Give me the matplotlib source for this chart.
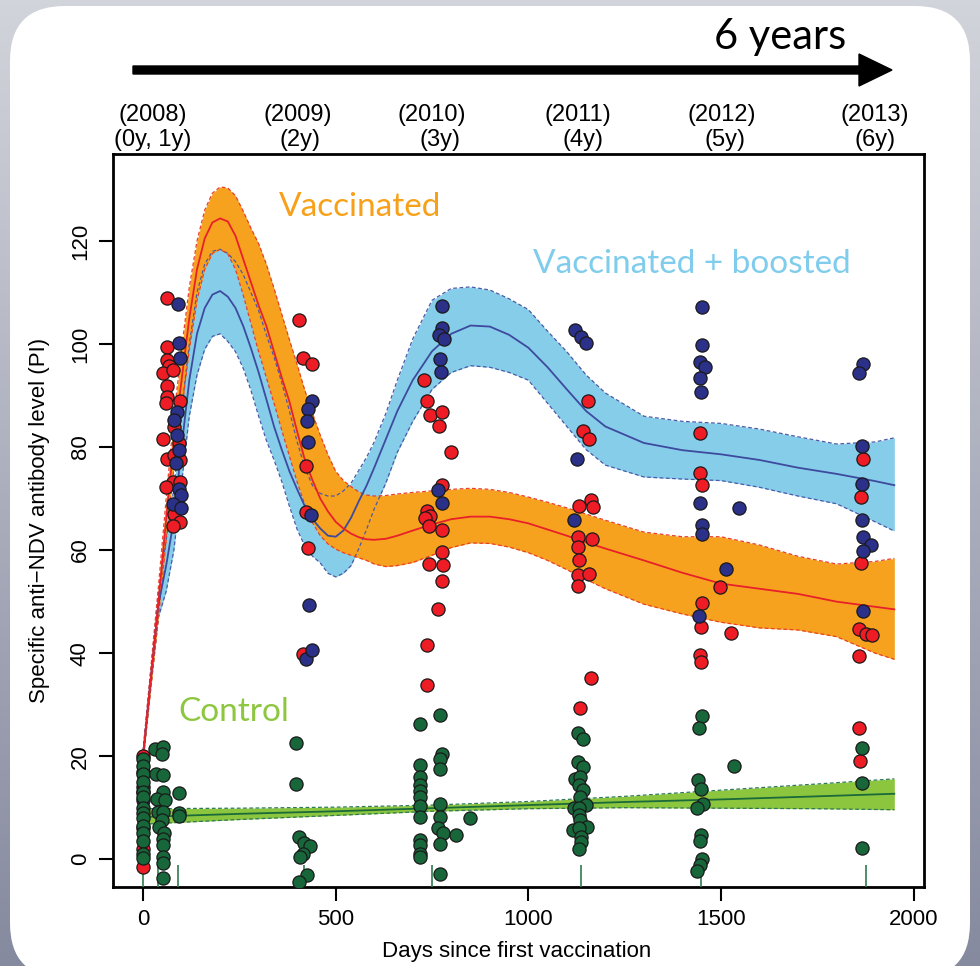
import numpy as np
import matplotlib.pyplot as plt
from matplotlib import transforms
from matplotlib.colors import LinearSegmentedColormap
from matplotlib.patches import FancyBboxPatch

plt.rcParams['font.family'] = ['Liberation Sans', 'DejaVu Sans']

# fitted curves with confidence bands
fit_days = [0, 20, 40, 60, 80, 100, 120, 140, 160, 180, 200, 220, 240, 260, 280, 300,
            320, 340, 360, 380, 400, 420, 440, 460, 480, 500, 520, 540, 560, 580, 600,
            630, 660, 700, 750, 800, 850, 900, 950, 1000, 1050, 1100, 1150, 1200, 1300,
            1400, 1500, 1600, 1700, 1800, 1900, 1950]
vacc_fit = [20, 35, 50, 66, 81, 93, 105, 114.5, 120.5, 123.6, 124.4, 123.8, 121, 116.5, 112, 107.5,
            103.5, 98.5, 93.5, 88.8, 83, 77.5, 73.5, 70, 67.5, 65.5, 64.2, 63.2, 62.5, 62.1, 62,
            62.2, 62.8, 63.8, 65, 66, 66.5, 66.5, 66, 65.2, 64, 62.8, 61.5, 60.3, 58,
            55.6, 53.5, 52.5, 51.5, 50, 49, 48.5]
vacc_hi = [21, 37, 53, 70, 86, 99, 111, 120, 126, 129.3, 130.5, 130.3, 128.8, 125.8, 122.5, 119.5,
           115.5, 110.8, 105.8, 100.8, 96, 91, 86.5, 82.3, 78.5, 75.3, 73.5, 72.3, 71.3, 70.7, 70.5,
           70.6, 70.9, 71.2, 71.5, 71.8, 72, 71.8, 71.2, 70.3, 69.3, 68.2, 67, 65.8, 63.5,
           62.6, 62.6, 61, 58.8, 57.3, 57.8, 58.4]
vacc_lo = [19, 33, 47, 62, 76, 87, 99, 108.5, 114.5, 117.6, 118.4, 117.5, 114.5, 109.5, 104, 98.5,
           93.5, 88.5, 83.3, 78.2, 73.2, 68.8, 65.3, 62.8, 61.2, 60.2, 59.5, 59, 58.5, 58, 57.3,
           56.8, 57, 57.6, 59, 60.5, 61.4, 61.3, 60.6, 59.5, 58, 56.2, 54.3, 52.5, 49.5,
           47.6, 46, 44.9, 44.5, 43.2, 40, 38.8]
boost_fit = [20, 35, 49.5, 57, 66, 80, 93, 102, 107, 109.6, 110.3, 109.2, 107, 103.5, 99.2, 94.5,
             89.3, 84, 79.5, 75.3, 71.8, 68.5, 66, 64.2, 62.8, 62.6, 63.8, 66.3, 69.5, 72.5, 76,
             81.5, 87, 93, 98.6, 102, 103.6, 103.4, 101.8, 99.3, 95.5, 91.2, 87, 84, 80.8,
             79.4, 78.6, 77.5, 76, 74.8, 73.4, 72.6]
boost_hi = [21, 36.5, 52, 62, 72, 87, 100, 110, 115.5, 118, 118.4, 117.6, 116, 113.5, 110, 106.5,
            101.8, 97.5, 92.5, 87, 81, 76, 72.5, 71, 70.5, 70.5, 71.5, 73, 75.5, 78, 81,
            86.5, 93, 101, 108.5, 110.8, 111.1, 110.5, 108.8, 106.7, 102.5, 98.5, 94, 90.5, 86,
            85, 84.6, 83.5, 82, 80.6, 81, 81.8]
boost_lo = [19, 33.5, 47, 52, 60, 73, 86, 94, 99, 101.5, 102, 100.5, 98.5, 95.3, 91, 86,
            81.3, 77.5, 73.3, 68.5, 64, 60.8, 58.8, 57.5, 55.5, 54.8, 55.5, 57, 60.3, 64, 68,
            73, 79, 85, 91.2, 94.5, 95.8, 95.5, 94.5, 93, 88.5, 84, 79.5, 76.5, 74.2,
            73.8, 73.5, 72.2, 70.5, 69, 65.5, 63.7]
ctrl_days = [0, 250, 500, 750, 1000, 1250, 1500, 1750, 1950]
ctrl_fit = [8.2, 8.8, 9.3, 9.9, 10.5, 11.1, 11.6, 12.2, 12.7]
ctrl_hi = [9.8, 9.9, 10.1, 10.5, 11.2, 12.2, 13.4, 14.6, 15.6]
ctrl_lo = [6.8, 7.7, 8.5, 9.3, 9.8, 10.0, 9.9, 9.8, 9.6]

# individual measurements (day, PI)
vacc_pts = [(0, 20), (0, 13), (0, 6), (0, 2), (0, -1.5),
            (61, 109), (61, 99.5), (61, 96.9), (68, 95.7), (51, 94.4), (79, 95), (62, 91.8),
            (61, 89.8), (60, 88.5), (96, 89), (80, 83.9), (53, 81.5), (94, 80.7), (61, 77.6),
            (80, 78.4), (96, 77.5), (77, 73.3), (96, 73.3), (60, 72.2), (80, 67), (96, 65.5), (79, 64.7),
            (406, 104.7), (414, 97.2), (438, 96.1), (422, 76.4), (423, 67.4), (429, 60.5), (416, 39.9),
            (728, 93), (738, 88.9), (745, 86.3), (775, 86.8), (768, 84.1), (799, 79), (775, 72.6),
            (738, 67.5), (745, 66.6), (732, 66.3), (741, 64.6), (775, 64), (775, 59.6), (741, 57.4),
            (778, 57.1), (775, 54), (766, 48.6), (738, 41.5), (738, 33.9),
            (1156, 88.9), (1141, 83.2), (1158, 81.5), (1132, 68.6), (1162, 69.7), (1167, 68.3),
            (1128, 62.6), (1130, 60.7), (1132, 58.1), (1130, 55.2), (1130, 53.1), (1164, 62.2),
            (1158, 55.3), (1162, 35.2), (1134, 29.3),
            (1446, 82.7), (1446, 74.9), (1450, 72.6), (1498, 52.8), (1450, 49.7), (1448, 45.1),
            (1526, 43.9), (1446, 39.6), (1447, 38.3),
            (1868, 77.6), (1863, 70.3), (1863, 57.5), (1859, 44.7), (1876, 43.8), (1891, 43.6),
            (1859, 39.4), (1859, 25.4), (1862, 19.1)]
boost_pts = [(0, 17), (0, 11.5), (0, 14),
             (92, 107.8), (94, 100.3), (96, 97.2), (89, 86.9), (80, 85.2), (89, 82.3), (94, 79.5),
             (86, 76.9), (93, 71.8), (99, 70.7), (79, 68.9), (98, 68.1),
             (438, 89), (427, 87.4), (425, 85), (429, 81), (435, 66.9), (432, 49.4), (423, 38.8), (438, 40.6),
             (775, 107.4), (775, 103.2), (769, 101.7), (781, 101), (771, 97.1), (773, 94.5),
             (766, 71.7), (775, 69.2),
             (1121, 102.8), (1138, 101.4), (1150, 100.2), (1126, 77.6), (1119, 65.8),
             (1452, 107.2), (1452, 99.9), (1446, 96.5), (1459, 95.5), (1446, 93.5), (1447, 90.7),
             (1446, 69.2), (1547, 68.2), (1452, 64.8), (1450, 63.1), (1513, 56.3), (1444, 47.2),
             (1868, 96.2), (1859, 94.4), (1866, 80.2), (1866, 72.8), (1866, 65.9), (1869, 62.5),
             (1889, 61), (1868, 59.8), (1868, 48.2)]
ctrl_pts = [(0, 19.5), (0, 18), (0, 16.5), (0, 15), (0, 13), (0, 12), (0, 10), (0, 9), (0, 8),
            (0, 6.5), (0, 5), (0, 3.5), (0, 1), (0, 0.2),
            (31, 21.3), (51, 21.8), (48, 20.5), (34, 16.5), (53, 16.3), (94, 12.9), (51, 13.1),
            (35, 11.7), (57, 11.4), (40, 9.2), (94, 9), (94, 8.3), (53, 9.2), (48, 7.6), (42, 6.3),
            (55, 5), (51, 4), (53, 2.7), (51, 0.4), (51, -0.8), (53, -3.7),
            (397, 22.5), (397, 14.6), (406, 4.3), (419, 3.1), (434, 2.6), (416, 1.1), (407, 0.4),
            (425, -3.1), (404, -4.5),
            (772, 28), (720, 26.3), (775, 20.5), (772, 19.4), (770, 17.6), (720, 18.3), (720, 16),
            (720, 14.4), (720, 13.2), (720, 12), (720, 10.4), (720, 8.2), (772, 10.8), (772, 8.2),
            (849, 7.9), (765, 6), (778, 5), (812, 4.7), (772, 3), (720, 3.7), (720, 2.7),
            (720, 1.1), (720, 0.4), (772, -2.8),
            (1130, 24.4), (1141, 23.4), (1130, 18.9), (1141, 17.9), (1121, 15.5), (1134, 16.0),
            (1132, 14.4), (1143, 13.4), (1134, 12.1), (1119, 9.9), (1150, 10.5), (1132, 9.9),
            (1132, 8.6), (1134, 7.6), (1117, 5.6), (1151, 6.2), (1132, 6.0), (1136, 4.3),
            (1138, 3.3), (1132, 1.9),
            (1452, 27.8), (1444, 25.5), (1535, 18.1), (1441, 15.3), (1448, 13.7), (1454, 10.8),
            (1439, 10), (1448, 4.7), (1446, 3.5), (1450, 0), (1446, -1.2), (1439, -2.3),
            (1867, 21.5), (1867, 14.8), (1867, 2.2)]
rug_days = [0, 38, 90, 418, 751, 1138, 1448, 1876]

year_labels = ['(2008)', '(2009)', '(2010)', '(2011)', '(2012)', '(2013)']
year_days = [26, 402, 750, 1129, 1503, 1900]
age_labels = ['(0y, 1y)', '(2y)', '(3y)', '(4y)', '(5y)', '(6y)']
age_days = [26, 407, 771, 1142, 1511, 1900]

fig = plt.figure(figsize=(9.8, 9.66), dpi=100)

# slide-like background with white rounded card
bg = fig.add_axes([0, 0, 1, 1], zorder=-10)
bg.set_xlim(0, 980)
bg.set_ylim(966, 0)
bg.axis('off')
cmap = LinearSegmentedColormap.from_list('bg', ['#d2d4db', '#868a9f'])
bg.imshow(np.linspace(0, 1, 256)[:, None], cmap=cmap, extent=[0, 980, 966, 0], aspect='auto')
bg.add_patch(FancyBboxPatch((10, 6), 960, 972, boxstyle='round,pad=0,rounding_size=55',
                            fc='white', ec='none'))
bg.arrow(133, 70, 759, 0, width=8, head_width=32, head_length=33,
         length_includes_head=True, fc='black', ec='black')
bg.text(780, 37, '6 years', fontsize=30, family='Lato', ha='center', va='center')

ax = fig.add_axes([113 / 980, 79 / 966, 811 / 980, 733 / 966])
ax.set_facecolor('none')

x = np.array(fit_days)
ax.fill_between(x, boost_lo, boost_hi, color='#86cdea', lw=0, zorder=1)
ax.fill_between(x, vacc_lo, vacc_hi, color='#f7a21e', lw=0, zorder=2)
ax.fill_between(ctrl_days, ctrl_lo, ctrl_hi, color='#8cc63f', lw=0, zorder=2)

dash = (0, (3, 2))
for arr in (boost_lo, boost_hi):
    ax.plot(x, arr, color='#4a5aa6', lw=0.9, ls=dash, zorder=3)
for arr in (vacc_lo, vacc_hi):
    ax.plot(x, arr, color='#e8402a', lw=0.9, ls=dash, zorder=3)
for arr in (ctrl_lo, ctrl_hi):
    ax.plot(ctrl_days, arr, color='#2f7a55', lw=0.9, ls=dash, zorder=3)

ax.plot(x, boost_fit, color='#3d4a9e', lw=1.3, zorder=4)
ax.plot(x, vacc_fit, color='#e8202a', lw=1.3, zorder=4)
ax.plot(ctrl_days, ctrl_fit, color='#1b6a3a', lw=1.3, zorder=4)

trans = transforms.blended_transform_factory(ax.transData, ax.transAxes)
ax.vlines(rug_days, 0, 0.03, transform=trans, color='#2e7d4f', lw=1.2, zorder=4)

for pts, col, z in ((vacc_pts, '#ee1c25', 5), (boost_pts, '#2b3088', 6), (ctrl_pts, '#17673a', 7)):
    px, py = zip(*pts)
    ax.scatter(px, py, s=90, c=col, edgecolors='#1a1a1a', linewidths=0.9, zorder=z)

ax.set_xlim(-78, 2027)
ax.set_ylim(-5.4, 136.9)
ax.set_xticks([0, 500, 1000, 1500, 2000])
ax.set_yticks([0, 20, 40, 60, 80, 100, 120])
ax.tick_params(length=10, width=1.5, labelsize=16, pad=6, color='black')
plt.setp(ax.get_yticklabels(), rotation=90, va='center')
for sp in ax.spines.values():
    sp.set_linewidth(2)

ax.set_xlabel('Days since first vaccination', fontsize=16)
ax.xaxis.set_label_coords(0.498, -0.074)
ax.set_ylabel('Specific anti\u2212NDV antibody level (PI)', fontsize=16)
ax.yaxis.set_label_coords(-0.078, 0.5)

ax.text(0.305, 0.928, 'Vaccinated', transform=ax.transAxes, fontsize=24, family='Lato',
        color='#f7a11a', ha='center', va='center')
ax.text(0.714, 0.85, 'Vaccinated + boosted', transform=ax.transAxes, fontsize=24, family='Lato',
        color='#7fccec', ha='center', va='center')
ax.text(0.149, 0.239, 'Control', transform=ax.transAxes, fontsize=24, family='Lato',
        color='#8dc63f', ha='center', va='center')

top = transforms.blended_transform_factory(ax.transData, bg.transData)
for lab, d in zip(year_labels, year_days):
    ax.text(d, 115, lab, transform=top, fontsize=17, ha='center', va='center', clip_on=False)
for lab, d in zip(age_labels, age_days):
    ax.text(d, 140, lab, transform=top, fontsize=17, ha='center', va='center', clip_on=False)

fig.savefig('out.png', dpi=100)
